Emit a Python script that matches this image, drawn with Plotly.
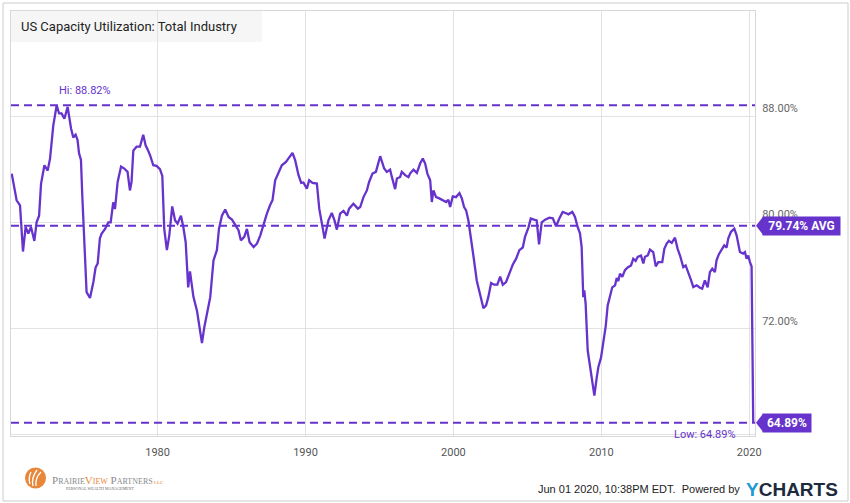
import plotly.graph_objects as go

# US capacity utilization, total industry (%)
years = [
    1970.14, 1970.47, 1970.70, 1970.90, 1971.08, 1971.26, 1971.44, 1971.67, 1971.82, 1971.99,
    1972.12, 1972.35, 1972.57, 1972.73, 1972.95, 1973.18, 1973.34, 1973.51, 1973.70, 1973.92,
    1974.15, 1974.30, 1974.46, 1974.59, 1974.69, 1974.82, 1974.91, 1975.03, 1975.20, 1975.43,
    1975.66, 1975.81, 1975.95, 1976.10, 1976.22, 1976.45, 1976.67, 1976.83, 1977.00, 1977.12,
    1977.30, 1977.53, 1977.75, 1977.97, 1978.13, 1978.24, 1978.36, 1978.58, 1978.81, 1979.03,
    1979.19, 1979.32, 1979.49, 1979.71, 1979.93, 1980.16, 1980.32, 1980.45, 1980.63, 1980.79,
    1980.99, 1981.18, 1981.35, 1981.58, 1981.74, 1981.90, 1982.07, 1982.19, 1982.42, 1982.67,
    1983.00, 1983.16, 1983.38, 1983.56, 1983.78, 1984.01, 1984.15, 1984.35, 1984.57, 1984.80,
    1985.03, 1985.25, 1985.47, 1985.63, 1985.86, 1986.04, 1986.22, 1986.49, 1986.72, 1986.94,
    1987.16, 1987.39, 1987.61, 1987.77, 1987.95, 1988.18, 1988.40, 1988.68, 1988.85, 1989.12,
    1989.30, 1989.53, 1989.71, 1989.86, 1990.09, 1990.25, 1990.47, 1990.77, 1990.93, 1991.11,
    1991.29, 1991.55, 1991.78, 1991.96, 1992.12, 1992.34, 1992.57, 1992.80, 1992.95, 1993.24,
    1993.54, 1993.70, 1993.92, 1994.15, 1994.30, 1994.53, 1994.76, 1995.05, 1995.32, 1995.50,
    1995.72, 1995.84, 1996.06, 1996.18, 1996.40, 1996.51, 1996.74, 1996.96, 1997.07, 1997.30,
    1997.53, 1997.75, 1997.93, 1998.09, 1998.24, 1998.43, 1998.54, 1998.65, 1998.83, 1999.05,
    1999.28, 1999.51, 1999.66, 1999.78, 1999.96, 2000.18, 2000.41, 2000.57, 2000.72, 2000.86,
    2001.01, 2001.18, 2001.35, 2001.58, 2001.80, 2002.03, 2002.21, 2002.36, 2002.55, 2002.75,
    2002.97, 2003.16, 2003.34, 2003.56, 2003.78, 2004.01, 2004.24, 2004.46, 2004.69, 2004.84,
    2005.07, 2005.23, 2005.45, 2005.63, 2005.79, 2005.97, 2006.20, 2006.49, 2006.72, 2006.94,
    2007.16, 2007.39, 2007.66, 2007.77, 2008.04, 2008.22, 2008.40, 2008.56, 2008.67, 2008.78,
    2008.85, 2008.94, 2009.08, 2009.30, 2009.53, 2009.69, 2009.80, 2009.98, 2010.14, 2010.30,
    2010.43, 2010.59, 2010.74, 2010.93, 2011.04, 2011.15, 2011.26, 2011.42, 2011.60, 2011.78,
    2012.01, 2012.16, 2012.32, 2012.46, 2012.68, 2012.84, 2012.95, 2013.14, 2013.29, 2013.51,
    2013.68, 2013.85, 2014.12, 2014.26, 2014.42, 2014.57, 2014.76, 2014.98, 2015.16, 2015.32,
    2015.54, 2015.70, 2015.88, 2016.06, 2016.22, 2016.45, 2016.67, 2016.82, 2017.00, 2017.19,
    2017.34, 2017.50, 2017.68, 2017.79, 2017.95, 2018.14, 2018.31, 2018.47, 2018.58, 2018.76,
    2018.99, 2019.15, 2019.26, 2019.37, 2019.59, 2019.71, 2019.82, 2019.93, 2020.05, 2020.16,
    2020.27,
]
utilization = [
    83.67, 81.66, 81.28, 77.80, 79.65, 79.15, 79.65, 78.60, 80.00, 80.50,
    82.90, 84.30, 83.90, 84.80, 87.30, 88.82, 88.20, 88.20, 87.80, 88.70,
    87.07, 86.40, 86.60, 86.20, 85.20, 84.70, 82.00, 78.80, 74.74, 74.30,
    75.50, 76.60, 76.90, 78.80, 79.15, 79.50, 80.00, 80.00, 81.50, 81.00,
    83.04, 84.20, 84.05, 83.80, 82.40, 83.04, 85.40, 85.70, 85.70, 86.60,
    85.80, 85.50, 85.06, 84.30, 84.25, 84.00, 83.50, 79.50, 77.90, 79.00,
    81.20, 80.15, 79.90, 80.50, 79.65, 78.50, 75.10, 76.30, 74.40, 73.30,
    70.90, 72.10, 73.36, 74.36, 77.13, 77.90, 79.50, 80.50, 80.96, 80.40,
    80.20, 79.77, 79.40, 78.64, 78.90, 79.50, 78.50, 78.14, 78.40, 79.00,
    79.90, 80.66, 81.30, 81.66, 83.17, 83.80, 84.30, 84.55, 84.80, 85.23,
    84.68, 83.55, 82.97, 83.00, 82.54, 83.17, 82.97, 82.92, 81.03, 79.77,
    78.77, 80.15, 80.70, 80.15, 79.45, 80.66, 80.86, 80.50, 81.03, 81.40,
    81.03, 81.15, 81.90, 82.40, 83.04, 83.67, 83.80, 84.98, 84.05, 83.80,
    83.97, 83.42, 82.50, 83.30, 83.42, 83.80, 83.55, 83.40, 83.67, 83.97,
    83.72, 84.43, 84.80, 84.43, 83.67, 83.17, 81.53, 82.40, 81.90, 81.80,
    81.66, 81.53, 81.70, 81.15, 81.96, 81.90, 82.20, 81.80, 81.15, 80.90,
    80.15, 78.64, 77.50, 75.60, 74.60, 73.53, 73.74, 74.36, 75.42, 75.30,
    75.30, 75.90, 75.30, 75.50, 76.13, 76.80, 77.26, 77.90, 78.10, 78.90,
    79.60, 80.28, 80.20, 80.15, 78.34, 80.00, 80.20, 80.35, 80.30, 79.70,
    80.28, 80.78, 80.66, 80.60, 80.78, 80.40, 79.65, 79.15, 78.14, 74.36,
    74.87, 73.86, 70.34, 68.58, 66.94, 68.30, 69.10, 69.80, 71.10, 72.20,
    73.74, 74.50, 75.10, 75.25, 75.80, 75.57, 76.13, 75.90, 76.40, 76.60,
    76.75, 77.26, 77.10, 77.40, 77.50, 76.90, 77.40, 77.50, 77.94, 77.76,
    76.68, 77.00, 77.00, 78.00, 78.40, 78.60, 78.45, 78.84, 78.00, 77.50,
    76.63, 76.75, 76.25, 75.67, 75.12, 75.25, 75.07, 75.00, 75.62, 75.10,
    76.25, 76.50, 76.25, 77.13, 77.60, 77.90, 78.26, 78.10, 78.77, 79.27,
    79.52, 79.00, 78.40, 77.76, 77.64, 77.76, 77.26, 77.50, 77.00, 76.68,
    64.89,
]

hi_value = 88.82
hi_year = 1973.18
low_value = 64.89
avg_value = 79.74

x_ticks = [1980, 1990, 2000, 2010, 2020]
y_ticks = [64, 72, 80, 88]

title = "US Capacity Utilization: Total Industry"
footer = "Jun 01 2020, 10:38PM EDT.  Powered by"

PURPLE = "#6633cc"
W, H = 850, 503
L, R, T, B = 11, 95, 11, 67
PW, PH = W - L - R, H - T - B


def px(x):
    return (x - L) / PW


def py(y):
    return (T + PH - y) / PH


fig = go.Figure()
fig.add_trace(go.Scatter(
    x=years, y=utilization, mode="lines",
    line=dict(color=PURPLE, width=2.3), hoverinfo="skip", showlegend=False,
))

shapes = []
# title box background
shapes.append(dict(type="rect", xref="paper", yref="paper", x0=0, x1=px(262), y0=py(42), y1=1,
                   fillcolor="#f6f6f6", line=dict(width=0), layer="below"))
# hi / avg / low dashed lines
for v in (hi_value, avg_value, low_value):
    shapes.append(dict(type="line", xref="paper", yref="y", x0=0, x1=1, y0=v, y1=v,
                       line=dict(color=PURPLE, width=2, dash="8px,5px")))
# flag arrows
for v in (avg_value, low_value):
    shapes.append(dict(type="path", xref="paper", yref="y", xsizemode="pixel", ysizemode="pixel",
                       xanchor=1, yanchor=v, path="M 1 0 L 8 9 L 8 -9 Z",
                       fillcolor=PURPLE, line=dict(width=0)))
# outer frame
shapes.append(dict(type="rect", xref="paper", yref="paper", x0=px(3), x1=px(848), y0=py(501), y1=py(3),
                   line=dict(color="#cccccc", width=1), fillcolor="rgba(0,0,0,0)"))
# logo circle with wheat strokes
shapes.append(dict(type="circle", xref="paper", yref="paper", x0=px(25), x1=px(46), y0=py(488.5), y1=py(467.5),
                   fillcolor="#e8873a", line=dict(width=0)))
for (ax, ay, cx, cy, bx, by) in ((33, 486, 31, 478, 37, 470), (36, 486, 35, 478, 41, 472), (30, 484, 28, 478, 31, 472)):
    shapes.append(dict(type="path", xref="paper", yref="paper",
                       path="M {} {} Q {} {} {} {}".format(px(ax), py(ay), px(cx), py(cy), px(bx), py(by)),
                       line=dict(color="white", width=1.3)))

annotations = [
    dict(text=title, xref="paper", yref="paper", x=px(19), y=py(27), xanchor="left", yanchor="middle",
         showarrow=False, font=dict(family="Roboto", size=13, color="#222222")),
    dict(text="Hi: 88.82%", xref="x", yref="y", x=hi_year, y=hi_value, xanchor="left", yanchor="bottom",
         yshift=6, showarrow=False, font=dict(family="Roboto", size=11, color=PURPLE)),
    dict(text="Low: 64.89%", xref="paper", yref="y", x=px(738), y=low_value, xanchor="right", yanchor="top",
         yshift=-3, showarrow=False, font=dict(family="Roboto", size=11, color=PURPLE)),
    dict(text="<b>79.74% AVG</b>", xref="paper", yref="y", x=px(762), y=avg_value, xanchor="left",
         yanchor="middle", width=77, height=18, borderpad=0, bgcolor=PURPLE, showarrow=False,
         font=dict(family="Roboto", size=12, color="white")),
    dict(text="<b>64.89%</b>", xref="paper", yref="y", x=px(762), y=low_value, xanchor="left",
         yanchor="middle", width=48, height=18, borderpad=0, bgcolor=PURPLE, showarrow=False,
         font=dict(family="Roboto", size=12, color="white")),
    dict(text=footer, xref="paper", yref="paper", x=px(742), y=py(489), xanchor="right", yanchor="middle",
         showarrow=False, font=dict(family="Liberation Sans", size=11, color="#222222")),
    dict(text="<b><span style='color:#1e9ad6'>Y</span>CHARTS</b>", xref="paper", yref="paper",
         x=px(744), y=py(489), xanchor="left", yanchor="middle", showarrow=False,
         font=dict(family="Liberation Sans", size=19, color="#1c2b3d")),
    dict(text="P<span style='font-size:8px'>RAIRIE</span><span style='color:#e8873a'>V"
              "<span style='font-size:8px'>IEW</span></span> P<span style='font-size:8px'>ARTNERS</span>"
              "<span style='font-size:5px;color:#e8873a'> LLC</span>",
         xref="paper", yref="paper", x=px(50), y=py(480), xanchor="left", yanchor="middle",
         showarrow=False, font=dict(family="Liberation Serif", size=11, color="#8a8a8a")),
    dict(text="PERSONAL WEALTH MANAGEMENT", xref="paper", yref="paper", x=px(64), y=py(488.5),
         xanchor="left", yanchor="middle", showarrow=False,
         font=dict(family="Liberation Serif", size=4, color="#666666")),
]

fig.update_layout(
    width=W, height=H,
    margin=dict(l=L, r=R, t=T, b=B),
    paper_bgcolor="white", plot_bgcolor="white",
    shapes=shapes, annotations=annotations,
    xaxis=dict(range=[1970.09, 2020.39], tickvals=x_ticks, ticktext=[str(t) for t in x_ticks],
               showgrid=True, gridcolor="#e2e2e2", gridwidth=1, zeroline=False,
               showline=True, linecolor="#d8d8d8", mirror=True, ticks="",
               ticklabelstandoff=6,
               tickfont=dict(family="Roboto", size=11, color="#555555")),
    yaxis=dict(range=[63.9, 95.92], side="right", tickvals=y_ticks,
               ticktext=["%.2f%%" % t for t in y_ticks],
               showgrid=True, gridcolor="#e2e2e2", gridwidth=1, zeroline=False,
               showline=True, linecolor="#d8d8d8", mirror=True, ticks="",
               ticklabelposition="outside top", ticklabelstandoff=4,
               tickfont=dict(family="Roboto", size=11, color="#666666")),
)

# page body has a default margin; drop it so the figure sits at the window's corner
fig.write_html("out.html", config={"displayModeBar": False},
               post_script="document.body.style.margin='0';document.body.style.padding='0';")
